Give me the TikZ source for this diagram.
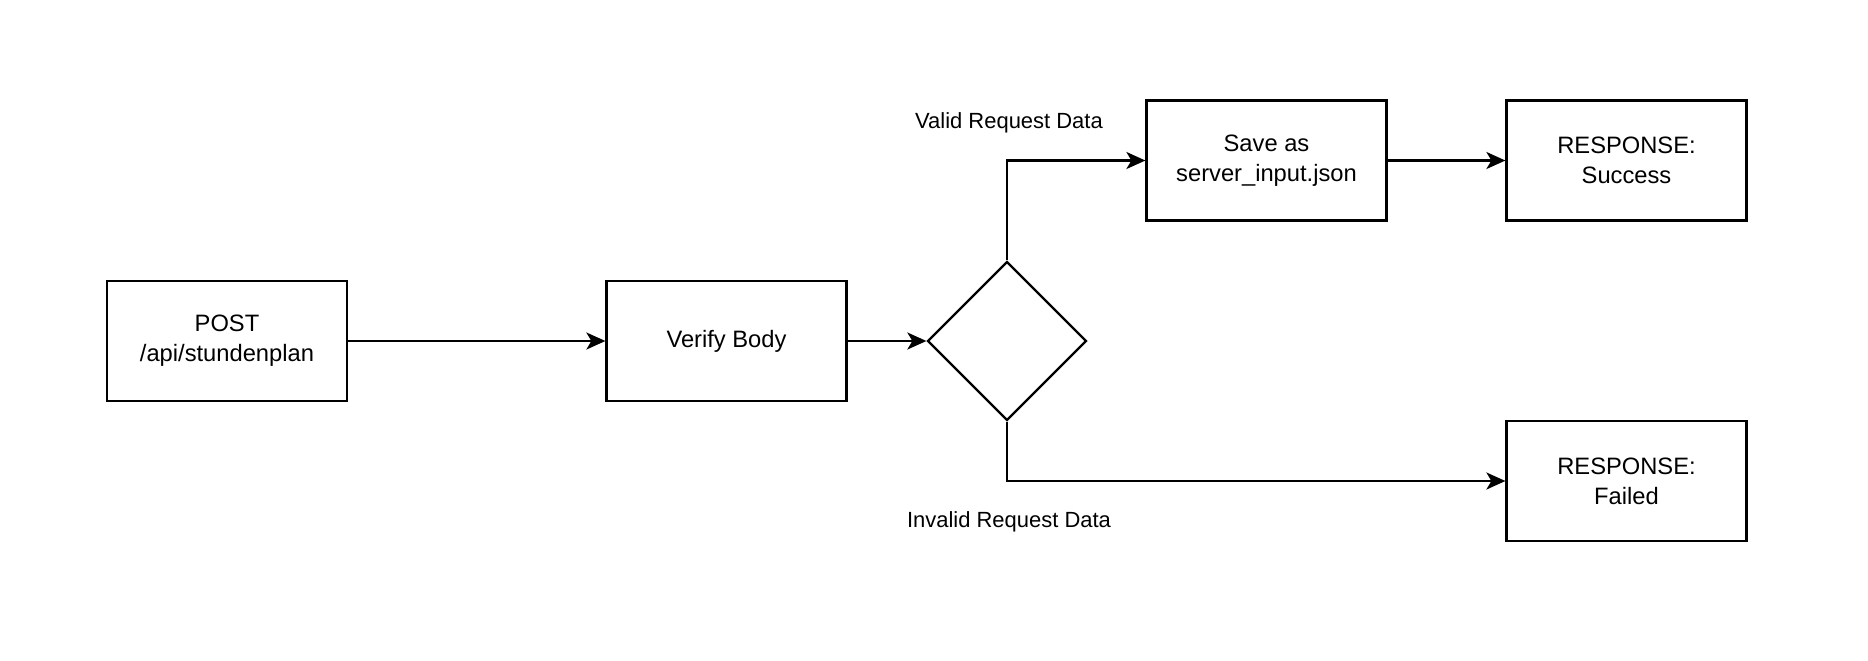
\documentclass[tikz,border=0pt]{standalone}
\usepackage{fontspec}
\setmainfont{Liberation Sans}
\usetikzlibrary{arrows.meta, shapes.geometric}

\begin{document}
\begin{tikzpicture}[x=0.02cm, y=-0.02cm, >={Stealth[length=0.38cm, width=0.34cm, inset=0.1cm]}, line width=1.3pt]
          \tikzstyle{box}=[rectangle, draw=black, line width=1.3pt, minimum width=4.8cm, minimum height=2.4cm, align=center, font=\fontsize{13.5}{17}\selectfont]
          \tikzstyle{decision}=[diamond, draw=black, line width=1.3pt, minimum width=3.18cm, minimum height=3.18cm, inner sep=0pt]
          \tikzstyle{lbl}=[font=\fontsize{12.5}{15}\selectfont]

          \useasboundingbox (0,0) rectangle (1868,660);

          \node[box] at (227,341) (post) {POST\\/api/stundenplan};
          \node[box] at (726.5,341) (verify) {Verify Body};
          \node[decision] at (1007,341) (check) {};
          \node[box] at (1266.5,160.5) (save) {Save as\\server\_input.json};
          \node[box] at (1626.5,160.5) (success) {RESPONSE:\\Success};
          \node[box] at (1626.5,481) (failed) {RESPONSE:\\Failed};
          \node[lbl] at (1009,123) (valid) {Valid Request Data};
          \node[lbl] at (1009,522) (invalid) {Invalid Request Data};

          \path (post) edge[->] (verify);
          \path (verify) edge[->] (check);
          \path (save) edge[->] (success);
          \draw[->] (check.north) |- (save.west);
          \draw[->] (check.south) |- (failed.west);

        \end{tikzpicture}
\end{document}
